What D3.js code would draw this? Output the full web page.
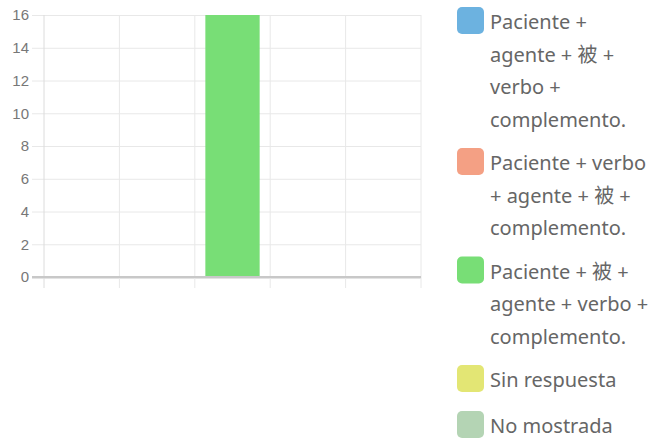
<!DOCTYPE html>
<html>
<head>
<meta charset="utf-8">
<script src="https://cdn.jsdelivr.net/npm/d3@7"></script>
<style>
  body { margin: 0; background: #fff; }
  svg { display: block; }
</style>
</head>
<body>
<div id="main"></div>
<script>
// data
const categories = [
  "Paciente + agente + 被 + verbo + complemento.",
  "Paciente + verbo + agente + 被 + complemento.",
  "Paciente + 被 + agente + verbo + complemento.",
  "Sin respuesta",
  "No mostrada"
];
const values = [0, 0, 16, 0, 0];
const colors = ["#6cb2e0", "#f4a084", "#78de76", "#e3e674", "#b4d4b4"];
const yTicks = [0, 2, 4, 6, 8, 10, 12, 14, 16];

const W = 664, H = 443;
const plot = {left: 44, right: 421, top: 15, bottom: 277};

const svg = d3.select("#main")
  .append("svg")
    .attr("width", W)
    .attr("height", H);

const x = d3.scaleBand()
  .domain(categories)
  .range([plot.left, plot.right])
  .paddingInner(0)
  .paddingOuter(0);

const y = d3.scaleLinear()
  .domain([0, 16])
  .range([plot.bottom, plot.top]);

// horizontal grid + y ticks
const tickExt = 12;
const yAxis = d3.axisLeft(y)
  .tickValues(yTicks)
  .tickSize(-(plot.right - plot.left) - tickExt)
  .tickPadding(3);

const gy = svg.append("g")
  .attr("transform", `translate(${plot.left - tickExt},0)`)
  .call(yAxis);
gy.select(".domain").remove();
gy.selectAll(".tick line")
  .attr("stroke", d => d === 0 ? "#c8c8c8" : "#e8e8e8")
  .attr("stroke-width", d => d === 0 ? 2 : 1);
gy.selectAll(".tick text")
  .attr("fill", "#777")
  .style("font-family", "'Liberation Sans', Arial, sans-serif")
  .style("font-size", "15px");

// vertical grid at band edges
const edges = categories.map(c => x(c)).concat([plot.right]);
svg.append("g")
  .selectAll("line")
  .data(edges)
  .join("line")
    .attr("x1", d => d)
    .attr("x2", d => d)
    .attr("y1", plot.top)
    .attr("y2", plot.bottom + 11)
    .attr("stroke", (d, i) => i === 0 ? "#dcdcdc" : "#e8e8e8")
    .attr("stroke-width", 1);

// bars
const barW = x.bandwidth() * 0.72;
svg.append("g")
  .selectAll("rect")
  .data(values)
  .join("rect")
    .attr("x", (d, i) => x(categories[i]) + (x.bandwidth() - barW) / 2)
    .attr("y", d => y(d))
    .attr("width", barW)
    .attr("height", d => y(0) - y(d))
    .attr("fill", (d, i) => colors[i]);

// redraw zero line on top
svg.append("line")
  .attr("x1", plot.left - tickExt)
  .attr("x2", plot.right)
  .attr("y1", y(0))
  .attr("y2", y(0))
  .attr("stroke", "#c8c8c8")
  .attr("stroke-width", 2);

// legend
const legendX = 457, textX = 490, maxW = 166, lineH = 32.5, gap = 11;
const legend = svg.append("g")
  .style("font-family", "'Noto Sans', 'Noto Sans CJK SC', sans-serif")
  .style("font-size", "20px");

const measure = legend.append("text").attr("visibility", "hidden");
function wrap(str) {
  const words = str.split(" ");
  const lines = [];
  let cur = "";
  words.forEach(w => {
    const test = cur ? cur + " " + w : w;
    measure.text(test);
    if (cur && measure.node().getComputedTextLength() > maxW) {
      lines.push(cur);
      cur = w;
    } else {
      cur = test;
    }
  });
  if (cur) lines.push(cur);
  return lines;
}

let itemTop = 7;
categories.forEach((c, i) => {
  const lines = wrap(c);
  const g = legend.append("g");
  g.append("rect")
    .attr("x", legendX)
    .attr("y", itemTop)
    .attr("width", 27)
    .attr("height", 27)
    .attr("rx", 5)
    .attr("fill", colors[i]);
  g.append("text")
    .attr("fill", "#666")
    .selectAll("tspan")
    .data(lines)
    .join("tspan")
      .attr("x", textX)
      .attr("y", (d, j) => itemTop + 22 + j * lineH)
      .text(d => d);
  itemTop += Math.max(lines.length * lineH, 35) + gap;
});
measure.remove();
</script>
</body>
</html>
